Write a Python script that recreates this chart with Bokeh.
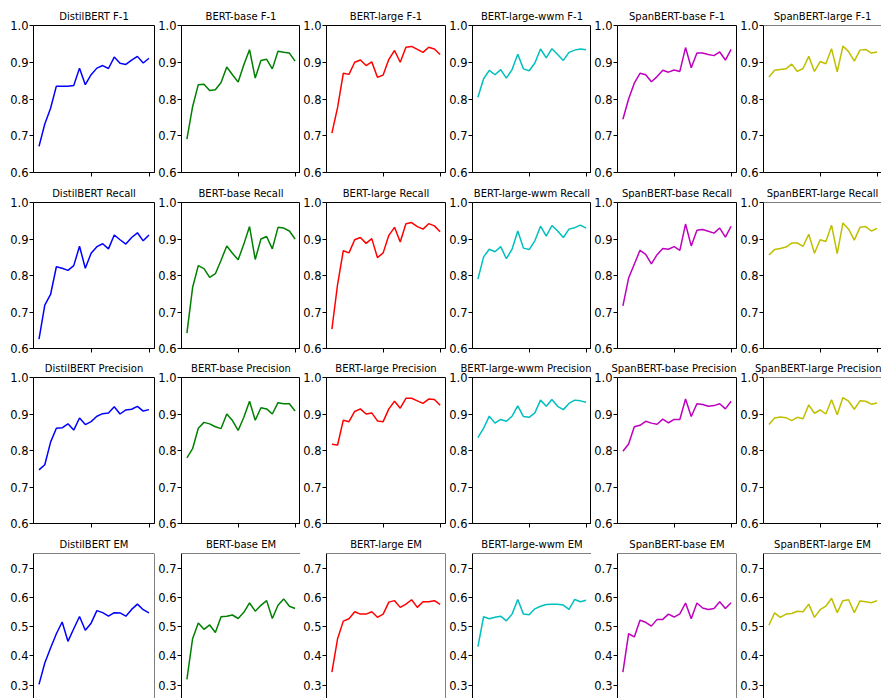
from bokeh.plotting import figure
from bokeh.layouts import column, row
from bokeh.models import LinearAxis, FixedTicker, Range1d, PrintfTickFormatter, Span
from bokeh.embed import file_html
from bokeh.resources import INLINE

epochs = list(range(1, 21))
models = ["DistilBERT", "BERT-base", "BERT-large", "BERT-large-wwm", "SpanBERT-base", "SpanBERT-large"]
metrics = ["F-1", "Recall", "Precision", "EM"]
colors = ["#0000ff", "#008000", "#ff0000", "#00bfbf", "#bf00bf", "#bfbf00"]
prf_ticks = [0.6, 0.7, 0.8, 0.9, 1.0]
em_ticks = [0.3, 0.4, 0.5, 0.6, 0.7]
x_ticks = [10, 20]

# F-1
distilbert_f1 = [0.671, 0.732, 0.775, 0.835, 0.835, 0.835, 0.837, 0.884, 0.839, 0.866,
                 0.884, 0.891, 0.883, 0.914, 0.897, 0.894, 0.906, 0.916, 0.898, 0.911]
bert_base_f1 = [0.691, 0.779, 0.839, 0.840, 0.823, 0.825, 0.845, 0.887, 0.866, 0.846,
                0.893, 0.934, 0.857, 0.905, 0.908, 0.882, 0.930, 0.927, 0.925, 0.903]
bert_large_f1 = [0.707, 0.777, 0.870, 0.867, 0.900, 0.906, 0.891, 0.901, 0.859, 0.865,
                 0.908, 0.932, 0.900, 0.941, 0.943, 0.935, 0.927, 0.941, 0.936, 0.921]
bert_wwm_f1 = [0.805, 0.855, 0.878, 0.866, 0.880, 0.857, 0.880, 0.922, 0.882, 0.877,
               0.898, 0.936, 0.912, 0.937, 0.921, 0.905, 0.927, 0.933, 0.936, 0.934]
span_base_f1 = [0.745, 0.800, 0.843, 0.870, 0.866, 0.847, 0.861, 0.878, 0.873, 0.879,
                0.875, 0.940, 0.885, 0.925, 0.925, 0.921, 0.918, 0.928, 0.906, 0.935]
span_large_f1 = [0.860, 0.878, 0.880, 0.882, 0.895, 0.875, 0.883, 0.916, 0.875, 0.902,
                 0.896, 0.937, 0.874, 0.944, 0.929, 0.903, 0.933, 0.935, 0.925, 0.928]

# Recall
distilbert_recall = [0.626, 0.719, 0.748, 0.824, 0.820, 0.814, 0.827, 0.880, 0.820, 0.861,
                     0.879, 0.887, 0.873, 0.911, 0.898, 0.886, 0.904, 0.917, 0.895, 0.911]
bert_base_recall = [0.642, 0.767, 0.827, 0.819, 0.795, 0.805, 0.842, 0.881, 0.861, 0.843,
                    0.886, 0.934, 0.844, 0.900, 0.907, 0.873, 0.932, 0.930, 0.922, 0.900]
bert_large_recall = [0.653, 0.776, 0.868, 0.862, 0.898, 0.904, 0.888, 0.901, 0.849, 0.862,
                     0.910, 0.932, 0.892, 0.942, 0.945, 0.934, 0.927, 0.942, 0.936, 0.920]
bert_wwm_recall = [0.790, 0.851, 0.872, 0.865, 0.879, 0.846, 0.872, 0.922, 0.875, 0.871,
                   0.895, 0.935, 0.908, 0.937, 0.922, 0.904, 0.927, 0.931, 0.938, 0.930]
span_base_recall = [0.717, 0.793, 0.831, 0.869, 0.858, 0.832, 0.857, 0.874, 0.872, 0.879,
                    0.869, 0.941, 0.881, 0.924, 0.926, 0.921, 0.916, 0.930, 0.905, 0.935]
span_large_recall = [0.856, 0.871, 0.874, 0.878, 0.889, 0.889, 0.880, 0.913, 0.861, 0.898,
                     0.893, 0.938, 0.860, 0.944, 0.927, 0.897, 0.932, 0.934, 0.922, 0.929]

# Precision
distilbert_precision = [0.747, 0.761, 0.823, 0.861, 0.862, 0.873, 0.856, 0.889, 0.871, 0.879,
                        0.894, 0.901, 0.903, 0.920, 0.900, 0.911, 0.913, 0.921, 0.908, 0.912]
bert_base_precision = [0.780, 0.805, 0.861, 0.877, 0.873, 0.865, 0.860, 0.900, 0.882, 0.855,
                       0.891, 0.935, 0.883, 0.917, 0.914, 0.900, 0.931, 0.928, 0.928, 0.908]
bert_large_precision = [0.817, 0.815, 0.883, 0.879, 0.907, 0.914, 0.900, 0.903, 0.881, 0.879,
                        0.914, 0.935, 0.916, 0.943, 0.943, 0.936, 0.929, 0.941, 0.940, 0.924]
bert_wwm_precision = [0.835, 0.861, 0.894, 0.875, 0.885, 0.880, 0.894, 0.922, 0.893, 0.891,
                      0.903, 0.938, 0.921, 0.940, 0.921, 0.912, 0.929, 0.938, 0.936, 0.932]
span_base_precision = [0.798, 0.818, 0.865, 0.869, 0.880, 0.875, 0.872, 0.886, 0.876, 0.885,
                       0.885, 0.941, 0.893, 0.928, 0.926, 0.921, 0.923, 0.928, 0.914, 0.935]
span_large_precision = [0.871, 0.889, 0.892, 0.890, 0.882, 0.891, 0.887, 0.925, 0.902, 0.911,
                        0.900, 0.939, 0.898, 0.945, 0.935, 0.913, 0.936, 0.935, 0.927, 0.930]

# EM
distilbert_em = [0.303, 0.376, 0.427, 0.476, 0.516, 0.450, 0.493, 0.535, 0.488, 0.512,
                 0.555, 0.548, 0.536, 0.548, 0.547, 0.536, 0.559, 0.577, 0.558, 0.547]
bert_base_em = [0.320, 0.459, 0.513, 0.491, 0.506, 0.480, 0.534, 0.536, 0.540, 0.528,
                0.549, 0.581, 0.553, 0.573, 0.589, 0.528, 0.573, 0.595, 0.570, 0.562]
bert_large_em = [0.345, 0.459, 0.519, 0.527, 0.551, 0.543, 0.543, 0.551, 0.532, 0.543,
                 0.584, 0.589, 0.566, 0.577, 0.592, 0.566, 0.585, 0.585, 0.589, 0.576]
bert_wwm_em = [0.432, 0.534, 0.527, 0.532, 0.536, 0.520, 0.543, 0.593, 0.543, 0.541,
               0.561, 0.570, 0.576, 0.577, 0.577, 0.574, 0.559, 0.593, 0.585, 0.590]
span_base_em = [0.345, 0.476, 0.465, 0.522, 0.515, 0.502, 0.525, 0.525, 0.543, 0.533,
                0.544, 0.581, 0.527, 0.581, 0.564, 0.559, 0.562, 0.585, 0.562, 0.582]
span_large_em = [0.505, 0.547, 0.532, 0.543, 0.545, 0.553, 0.551, 0.577, 0.532, 0.558,
                 0.570, 0.597, 0.548, 0.589, 0.592, 0.548, 0.588, 0.585, 0.582, 0.589]

table = [
    [distilbert_f1, bert_base_f1, bert_large_f1, bert_wwm_f1, span_base_f1, span_large_f1],
    [distilbert_recall, bert_base_recall, bert_large_recall, bert_wwm_recall, span_base_recall, span_large_recall],
    [distilbert_precision, bert_base_precision, bert_large_precision, bert_wwm_precision, span_base_precision, span_large_precision],
    [distilbert_em, bert_base_em, bert_large_em, bert_wwm_em, span_base_em, span_large_em],
]

FONT = "DejaVu Sans"
TITLE_PX = 10

# layout (pixels): borders and frame sizes per column / row
COL_LEFT = [33, 24, 24, 24, 24, 24]
COL_FRAME = [121, 121, 121, 121, 121, 120]
COL_RIGHT = [1, 0, 1, 0, 1, 0]
ROW_TOP = [25, 20, 20, 20]
ROW_FRAME = [147, 146, 146, 145]
ROW_BOTTOM = [10, 9, 10, 0]
FULL_FRAME_W = 121
EM_FULL_FRAME_H = 146.4

# approximate DejaVu Sans advance widths (em) for title width estimate
ADV = {"D": .770, "i": .278, "s": .521, "t": .392, "l": .278, "B": .686, "E": .632,
       "R": .695, "T": .611, " ": .318, "F": .575, "-": .361, "1": .636, "a": .613,
       "e": .615, "r": .411, "g": .635, "w": .818, "m": .974, "S": .635, "p": .635,
       "n": .634, "P": .603, "c": .550, "o": .612, "M": .863, "b": .635}


def text_w(s):
    return sum(ADV.get(ch, 0.6) for ch in s) * TITLE_PX


def panel(r, c):
    last_col = c == 5
    last_row = r == 3
    left, frame_w, right = COL_LEFT[c], COL_FRAME[c], COL_RIGHT[c]
    top, frame_h, bottom = ROW_TOP[r], ROW_FRAME[r], ROW_BOTTOM[r]
    w = left + frame_w + right
    h = top + frame_h + bottom
    x_end = 0.05 + frame_w * 20.9 / FULL_FRAME_W
    if last_row:
        y1 = 0.75
        y0 = y1 - frame_h * 0.5 / EM_FULL_FRAME_H
        ticks = em_ticks
    else:
        y0, y1 = 0.6, 1.0
        ticks = prf_ticks
    title = f"{models[c]} {metrics[r]}"
    edge = last_col or last_row
    p = figure(width=w, height=h, x_range=Range1d(0.05, x_end), y_range=Range1d(y0, y1),
               x_axis_location=None, y_axis_location=None,
               output_backend="svg", toolbar_location=None,
               min_border_left=left, min_border_right=right, min_border_top=top,
               min_border_bottom=bottom,
               outline_line_color=None if edge else "black", outline_line_width=1,
               background_fill_color="white", border_fill_color="white",
               title=title)
    p.grid.visible = False
    p.title.text_font = FONT
    p.title.text_font_size = f"{TITLE_PX}px"
    p.title.text_font_style = "normal"
    p.title.text_color = "black"
    p.title.standoff = 7
    # a title wider than the panel is aligned right so it stays inside the canvas
    overflow = text_w(title) / 2 - (frame_w / 2 + right)
    p.title.align = "right" if overflow > -1 else "center"

    yax = LinearAxis(ticker=FixedTicker(ticks=ticks), formatter=PrintfTickFormatter(format="%.1f"),
                     major_tick_out=4, major_tick_in=0, minor_tick_out=0, minor_tick_in=0,
                     major_label_standoff=1, axis_line_color="black", axis_line_width=1,
                     major_tick_line_color="black", major_tick_line_width=1,
                     major_label_text_font=FONT, major_label_text_font_size="11.5px",
                     major_label_text_color="black")
    p.add_layout(yax, "left")
    if not last_row:
        xax = LinearAxis(ticker=FixedTicker(ticks=x_ticks), major_tick_out=4, major_tick_in=0,
                         minor_tick_out=0, minor_tick_in=0, major_label_standoff=0,
                         major_label_text_font_size="1px", major_label_text_color=None,
                         axis_line_color="black", axis_line_width=1,
                         major_tick_line_color="black")
        p.add_layout(xax, "below")
    if edge:
        # panels cut by the picture's edge: draw only the spines that are visible
        p.add_layout(Span(location=y1, dimension="width", line_color="black", line_width=1))
        if not last_col:
            p.add_layout(Span(location=x_end, dimension="height", line_color="black", line_width=1))
    p.line(epochs, table[r][c], line_color=colors[c], line_width=1.5)
    return p


rows = [row(*[panel(r, c) for c in range(6)], spacing=0) for r in range(4)]
layout = column(*rows, spacing=0)

open("out.html", "w").write(file_html(layout, INLINE))
